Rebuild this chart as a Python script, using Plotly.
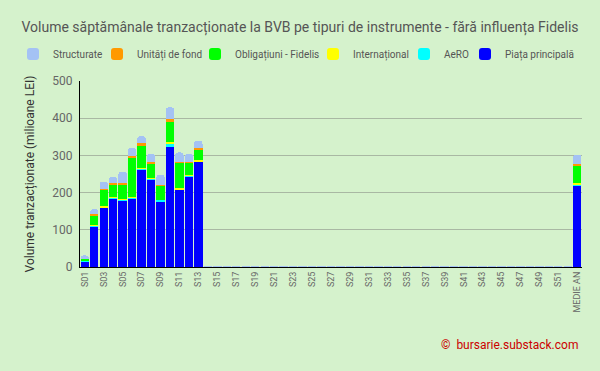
import plotly.graph_objects as go

weeks = [f"S{i:02d}" for i in range(1, 53)]
categories = weeks + ["MEDIE AN"]

n_empty = 39  # S14..S52 have no data
piata = [14, 108, 160, 184, 178, 184, 261, 235, 175, 325, 208, 243, 283] + [None] * n_empty + [220]
aero = [1, 3, 1, 2, 4, 2, 5, 4, 5, 5, 1, 3, 1] + [None] * n_empty + [3]
international = [0, 2, 3, 1, 1, 2, 1, 0.5, 0, 7, 3, 1, 4] + [None] * n_empty + [2]
obligatiuni = [6, 26, 45, 34, 37, 106, 59, 40, 38, 55, 68, 33, 29] + [None] * n_empty + [48]
unitati = [0, 3, 2, 5, 6, 5, 8, 3, 3, 5, 3, 3, 4] + [None] * n_empty + [5]
structurate = [10, 13, 18, 16, 30, 21, 18, 21, 27, 32, 25, 21, 18] + [1.5] * n_empty + [24]

# (name, values, colour, legend id, legend left x in px)
series = [
    ("Piața principală", piata, "#0000ff", "legend6", 465),
    ("AeRO", aero, "#00ffff", "legend5", 404),
    ("Internațional", international, "#ffff00", "legend4", 313),
    ("Obligațiuni - Fidelis", obligatiuni, "#00ff00", "legend3", 195),
    ("Unități de fond", unitati, "#ff9900", "legend2", 97),
    ("Structurate", structurate, "#a4c2f4", "legend", 13),
]

W, H = 600, 371
fig = go.Figure()
legends = {}
for name, vals, color, lg, lx in series:
    fig.add_trace(go.Bar(x=categories, y=vals, name=name, marker_color=color,
                         marker_line_width=0, legend=lg))
    legends[lg] = dict(orientation="h", xref="container", x=lx / W, xanchor="left",
                       yref="container", y=1 - 54 / H, yanchor="middle",
                       font=dict(size=10, color="#555555", family="Roboto"),
                       itemwidth=30, bgcolor="rgba(0,0,0,0)", borderwidth=0)

bg = "#d5f2cc"
fig.update_layout(
    width=W, height=H,
    barmode="stack", bargap=0.12, barcornerradius=3,
    paper_bgcolor=bg, plot_bgcolor=bg,
    font=dict(family="Roboto", color="#555555"),
    margin=dict(l=80, r=18, t=81, b=104, autoexpand=False),
    title=dict(text="Volume săptămânale tranzacționate la BVB pe tipuri de instrumente - fără influența Fidelis",
               x=0.5, xanchor="center", y=1 - 27 / H, yanchor="middle",
               font=dict(size=14, color="#555555")),
    showlegend=True,
    **legends,
)
fig.update_xaxes(type="category", tickmode="linear", dtick=2, tickangle=-90,
                 tickfont=dict(size=9, color="#666666"), showline=True,
                 linecolor="black", linewidth=1, showgrid=False, ticks="",
                 automargin=False)
fig.update_yaxes(range=[0, 500], dtick=100, showgrid=True, gridcolor="#a9b8a3",
                 gridwidth=1, showline=True, linecolor="black", linewidth=1,
                 tickfont=dict(size=12, color="#666666"), zeroline=False,
                 automargin=False, ticklabelstandoff=4,
                 title=dict(text="Volume tranzacționate (milioane LEI)",
                            font=dict(size=12, color="#333333"), standoff=15))
fig.add_annotation(text="©  bursarie.substack.com", xref="paper", yref="paper",
                   x=1.0, xanchor="right", xshift=-2, y=-0.419, yanchor="middle",
                   showarrow=False, font=dict(size=12, color="#cc0000"))
fig.write_html("out.html", config={"displayModeBar": False},
               post_script="document.body.style.margin='0';")
